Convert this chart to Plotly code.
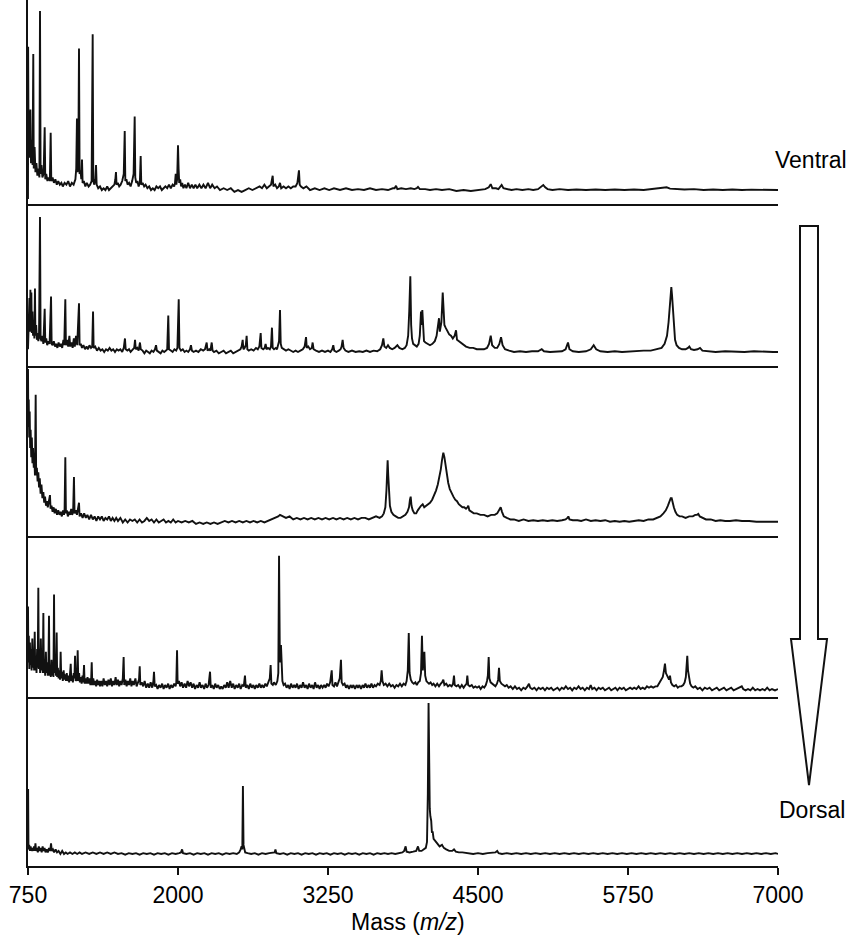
import plotly.graph_objects as go

# ---------------- data (mass m/z, relative intensity; tallest peak of each spectrum = 100) ----------------
ventral = [(750,-5),(751,80),(755,25),(760,44),(764,18),(770,45),(775,15),(782,28),(788,14),(794,76),(798,12),(805,24),(812,10),(820,15),(828,8),(836,12),(845,7),(850,100),(855,9),(862,14),(870,7),(880,9),(889,35),(894,6),(902,9),(912,5),(922,7),(932,5),(939,32),(944,5),(955,7),(966,4),(978,6),(990,3),(1002,5),(1015,3),(1028,4),(1040,2),(1055,4),(1070,3),(1085,5),(1100,2),(1115,4),(1130,3),(1145,6),(1152,12),(1158,40),(1163,10),(1169,14),(1175,79),(1180,9),(1188,11),(1194,6),(1200,17),(1205,4),(1215,5),(1228,2),(1240,4),(1255,2),(1268,3),(1280,5),(1289,87),(1294,5),(1303,3),(1311,6),(1317,14),(1322,3),(1335,1),(1350,2),(1365,0),(1380,1),(1395,0),(1410,2),(1425,0),(1440,1),(1455,2),(1470,3),(1478,6),(1483,10),(1488,3),(1498,4),(1510,2),(1522,3),(1535,5),(1548,9),(1556,33),(1561,5),(1570,6),(1580,3),(1592,4),(1605,2),(1618,5),(1630,9),(1639,41),(1644,7),(1652,4),(1662,5),(1672,2),(1682,4),(1689,19),(1694,3),(1705,4),(1718,2),(1730,3),(1745,1),(1760,2),(1775,0),(1790,1),(1805,0),(1820,2),(1835,1),(1850,2),(1865,0),(1880,1),(1895,2),(1910,1),(1925,3),(1940,1),(1955,3),(1968,2),(1975,4),(1981,9),(1986,3),(1993,6),(2000,25),(2005,12),(2010,4),(2018,6),(2026,2),(2035,4),(2045,1),(2058,3),(2070,1),(2085,4),(2100,1),(2115,3),(2130,1),(2145,3),(2160,1),(2178,3),(2195,1),(2212,3),(2230,1),(2250,4),(2268,1),(2285,3),(2305,1),(2325,2),(2350,0),(2380,1),(2410,0),(2440,1),(2470,-1),(2500,0),(2530,-1),(2560,0),(2590,1),(2620,0),(2650,1),(2680,2),(2700,1),(2720,3),(2740,1),(2760,2),(2775,3),(2789,8),(2795,2),(2810,3),(2825,1),(2840,2),(2850,4),(2860,1),(2880,2),(2900,1),(2920,2),(2940,1),(2960,2),(2980,2),(2995,4),(3008,11),(3014,3),(3025,2),(3045,1),(3070,2),(3100,0),(3140,1),(3180,0),(3220,1),(3260,0),(3300,1),(3350,0),(3400,1),(3450,0),(3500,0.5),(3550,0),(3600,1),(3650,0),(3700,0.5),(3750,0),(3790,1),(3805,1),(3817,2.4),(3828,0.5),(3860,1),(3900,0.5),(3940,1),(3970,0.5),(3990,1),(4000,1.7),(4015,0.5),(4060,0.5),(4100,0),(4150,0.5),(4200,0),(4260,0.5),(4320,-0.5),(4380,0),(4440,-0.5),(4500,0),(4560,0.5),(4590,1.5),(4606,3.3),(4620,1),(4650,1),(4670,0.5),(4685,1.5),(4697,2.8),(4712,1),(4740,0.5),(4780,0),(4820,0.5),(4870,0),(4920,0.5),(4960,0),(5000,0.5),(5020,1.5),(5044,2.8),(5060,1.5),(5080,0.5),(5120,0),(5180,0.5),(5250,0),(5320,0.3),(5400,0),(5480,0.3),(5560,0),(5640,0.3),(5720,0),(5800,0.3),(5880,0),(5960,0.5),(6020,0.8),(6050,1),(6072,1.5),(6100,0.8),(6150,0.5),(6220,0.3),(6300,0.5),(6380,0),(6460,0.3),(6540,0),(6620,0.3),(6700,0),(6780,0.2),(6860,0),(6940,0.2),(7000,0)]

section_2 = [(750,2),(753,20),(757,9),(762,40),(766,15),(770,46),(774,18),(778,44),(782,14),(787,30),(792,12),(798,22),(803,10),(808,47),(812,12),(818,20),(824,9),(830,14),(836,8),(842,12),(850,100),(855,10),(862,8),(870,12),(878,6),(889,32),(894,7),(902,10),(910,5),(920,8),(930,6),(942,41),(947,6),(955,5),(965,8),(975,4),(985,6),(995,3),(1005,7),(1015,4),(1025,6),(1035,3),(1045,9),(1052,5),(1061,39),(1066,5),(1075,9),(1085,4),(1095,12),(1102,4),(1112,7),(1122,3),(1132,10),(1140,4),(1150,12),(1160,5),(1175,36),(1180,5),(1190,6),(1200,3),(1212,5),(1225,2),(1238,4),(1250,2),(1262,5),(1275,3),(1285,4),(1292,30),(1297,3),(1310,4),(1325,1),(1340,3),(1355,1),(1370,2),(1385,0),(1400,2),(1415,1),(1430,3),(1445,1),(1460,2),(1475,0),(1490,2),(1505,1),(1520,2),(1535,0),(1548,3),(1558,10),(1564,2),(1578,1),(1592,2),(1605,0),(1620,2),(1635,3),(1642,9),(1648,2),(1660,3),(1672,1),(1683,7),(1690,2),(1705,1),(1720,-1),(1735,1),(1750,0),(1765,-1),(1780,1),(1795,0),(1808,2),(1817,5),(1824,1),(1840,0),(1855,-1),(1870,1),(1885,0),(1900,1),(1910,2),(1919,27),(1925,2),(1940,1),(1955,0),(1970,2),(1985,1),(1995,3),(2006,39),(2012,3),(2025,1),(2040,2),(2055,0),(2070,1),(2085,0),(2100,2),(2108,5),(2116,1),(2130,0),(2150,1),(2170,0),(2190,2),(2210,1),(2225,2),(2239,7),(2246,1),(2260,2),(2270,1),(2281,7),(2288,1),(2300,0),(2320,1),(2340,-1),(2360,0),(2380,1),(2400,-1),(2420,0),(2440,1),(2460,-1),(2480,0),(2500,1),(2520,2),(2530,4),(2539,9),(2545,2),(2555,3),(2565,5),(2572,12),(2578,2),(2590,1),(2610,2),(2630,1),(2650,3),(2665,2),(2678,4),(2689,14),(2695,3),(2710,2),(2722,3),(2730,6),(2738,2),(2750,3),(2765,2),(2775,4),(2783,18),(2789,3),(2800,2),(2815,3),(2825,2),(2835,5),(2842,8),(2850,31),(2856,6),(2865,3),(2880,2),(2900,1),(2920,2),(2940,1),(2960,0),(2980,1),(3000,0),(3020,1),(3040,2),(3055,4),(3067,11),(3073,3),(3085,4),(3100,2),(3115,3),(3122,7),(3130,2),(3150,1),(3175,0),(3200,1),(3225,0),(3250,1),(3270,0),(3285,2),(3294,5),(3302,1),(3320,0),(3340,1),(3355,2),(3363,4),(3372,9),(3380,3),(3395,1),(3420,0),(3450,1),(3480,0),(3510,0.5),(3540,0),(3570,1),(3600,0),(3630,1),(3660,0.5),(3685,2),(3700,5),(3711,10),(3720,4),(3735,3),(3750,5),(3765,3),(3785,2),(3805,3),(3828,5),(3845,3),(3870,2),(3890,3),(3905,5),(3918,12),(3927,30),(3936,56),(3943,20),(3950,10),(3960,6),(3975,5),(3990,4),(4005,6),(4015,12),(4025,30),(4030,20),(4036,31),(4042,15),(4050,8),(4062,7),(4080,6),(4100,5),(4120,6),(4140,8),(4155,12),(4165,18),(4175,25),(4182,15),(4195,22),(4206,44),(4212,28),(4220,20),(4230,18),(4245,15),(4260,13),(4275,12),(4290,10),(4305,12),(4317,16),(4325,9),(4340,8),(4360,6),(4380,5),(4400,4),(4430,3),(4460,3),(4490,2),(4520,2),(4550,2),(4575,3),(4592,6),(4606,12),(4618,5),(4640,3),(4660,3),(4678,6),(4692,11),(4705,5),(4725,2),(4760,1),(4800,0),(4850,0.5),(4900,0),(4950,0.5),(5000,0.5),(5031,2),(5050,0.5),(5100,0),(5150,0.5),(5200,0.5),(5230,2),(5250,7),(5262,2),(5290,0.5),(5340,0),(5400,0.5),(5440,2),(5464,5),(5485,2),(5520,0.5),(5580,0),(5640,0.5),(5700,0),(5760,0.5),(5820,0.5),(5880,1),(5940,1),(5990,2),(6030,3),(6055,6),(6075,12),(6088,22),(6098,35),(6106,44),(6111,48),(6117,42),(6124,30),(6132,18),(6142,9),(6155,5),(6175,3),(6200,2),(6230,2),(6250,3),(6261,4),(6275,2),(6300,1.5),(6330,2),(6350,3),(6370,1),(6420,0.5),(6480,0),(6560,0.5),(6640,0),(6720,0),(6800,0.5),(6880,0),(6960,0),(7000,0)]

section_3 = [(750,100),(753,62),(756,80),(760,55),(764,72),(768,48),(772,60),(777,42),(782,55),(787,38),(792,48),(798,35),(803,42),(808,30),(814,83),(818,30),(824,35),(830,26),(836,32),(842,22),(848,28),(855,18),(862,24),(870,15),(878,19),(885,12),(892,16),(900,10),(908,13),(915,9),(922,12),(933,17),(938,8),(946,10),(955,6),(964,9),(972,5),(982,8),(992,4),(1002,7),(1012,4),(1022,6),(1032,3),(1042,7),(1050,4),(1055,8),(1061,42),(1066,5),(1074,7),(1082,3),(1092,6),(1100,4),(1110,8),(1118,4),(1126,6),(1133,29),(1138,5),(1148,7),(1158,4),(1168,8),(1175,12),(1180,3),(1192,5),(1205,2),(1218,5),(1232,2),(1245,4),(1260,1),(1275,4),(1290,1),(1305,3),(1320,0),(1335,3),(1350,1),(1365,3),(1380,0),(1395,2),(1410,1),(1425,3),(1440,0),(1455,2),(1470,0),(1485,2),(1500,0),(1520,2),(1540,-1),(1560,1),(1580,-1),(1600,1),(1620,0),(1640,1),(1660,-1),(1680,1),(1700,-1),(1720,0),(1740,2),(1760,0),(1780,1),(1800,-1),(1820,1),(1840,-1),(1860,0),(1880,1),(1900,-1),(1920,0),(1940,-1),(1960,1),(1980,-1),(2000,0),(2030,-1),(2060,0),(2090,-1),(2120,0),(2150,-2),(2180,-1),(2210,-2),(2240,-1),(2270,-2),(2300,-1),(2330,-2),(2360,-1),(2390,0),(2420,-1),(2450,0),(2480,-1),(2510,0),(2540,-1),(2570,0),(2600,-1),(2630,0),(2660,-1),(2690,0),(2720,-1),(2750,0),(2780,1),(2810,2),(2835,3),(2850,4),(2870,3),(2900,2),(2930,3),(2960,1),(2990,2),(3020,1),(3050,2),(3080,1),(3110,2),(3140,1),(3170,2),(3200,1),(3230,2),(3260,1),(3292,2),(3320,1),(3350,2),(3380,1),(3410,2),(3440,1),(3470,2),(3500,1),(3530,2),(3560,2),(3590,1),(3620,2),(3650,3),(3680,2),(3700,3),(3715,5),(3728,9),(3737,20),(3743,33),(3747,40),(3752,30),(3758,18),(3766,10),(3778,6),(3795,4),(3815,3),(3835,2),(3855,2),(3875,3),(3895,4),(3912,6),(3925,9),(3933,14),(3939,16),(3946,10),(3956,7),(3970,5),(3985,5),(3998,7),(4012,9),(4025,10),(4039,11),(4052,9),(4068,10),(4085,11),(4100,12),(4118,14),(4135,17),(4150,20),(4165,24),(4178,29),(4190,34),(4200,40),(4211,45),(4220,42),(4230,36),(4240,30),(4252,25),(4265,21),(4280,18),(4295,16),(4310,14),(4325,13),(4340,11),(4355,10),(4370,9),(4385,9),(4400,8),(4412,9),(4419,10),(4428,7),(4445,6),(4465,5),(4490,5),(4520,4),(4550,4),(4580,3),(4610,4),(4640,4),(4660,5),(4675,7),(4689,9),(4700,6),(4715,3),(4740,2),(4770,1),(4800,1),(4840,0),(4880,1),(4920,0),(4960,0.5),(5000,0),(5040,0.5),(5080,0),(5120,0.5),(5160,0),(5200,0.5),(5230,1),(5245,2),(5253,3),(5262,1),(5290,0.5),(5330,0.5),(5360,0),(5400,1),(5440,0),(5480,0.5),(5520,0),(5560,0.5),(5600,-0.5),(5640,0),(5680,-0.5),(5720,0),(5760,-0.5),(5800,0),(5840,0.5),(5880,0),(5920,1),(5960,1),(5990,2),(6020,3),(6045,5),(6065,7),(6082,10),(6096,13),(6106,15),(6114,15),(6122,12),(6132,9),(6145,6),(6160,4),(6180,3),(6200,3),(6230,2),(6260,3),(6290,3),(6310,4),(6325,4),(6336,4.6),(6348,3),(6370,2),(6400,1),(6440,1),(6480,0),(6520,0.5),(6560,0),(6600,0),(6650,0.5),(6700,0),(6760,0),(6820,-0.5),(6880,-0.5),(6940,-0.5),(7000,-0.5)]

section_4 = [(750,62),(753,20),(757,40),(761,15),(766,35),(770,18),(775,30),(780,14),(786,38),(791,16),(796,28),(801,14),(806,43),(810,14),(816,25),(821,12),(826,30),(831,16),(836,76),(840,15),(846,30),(851,12),(857,38),(862,14),(868,25),(873,12),(878,57),(882,12),(888,22),(893,10),(899,28),(904,12),(910,20),(915,10),(920,16),(925,55),(929,10),(935,18),(940,9),(946,22),(951,10),(957,15),(962,9),(967,71),(971,12),(977,20),(983,10),(989,42.5),(993,9),(999,16),(1005,8),(1012,14),(1017,7),(1022,28),(1027,8),(1034,13),(1040,6),(1047,14),(1053,7),(1060,11),(1066,6),(1073,12),(1080,6),(1087,10),(1093,5),(1100,11),(1106,19),(1111,6),(1118,10),(1124,5),(1131,12),(1137,8),(1142,25),(1147,6),(1153,9),(1158,6),(1164,29),(1169,6),(1176,12),(1182,5),(1190,9),(1197,4),(1204,10),(1210,5),(1217,18),(1222,4),(1230,8),(1238,4),(1246,9),(1254,4),(1262,8),(1270,3),(1276,6),(1281,20),(1286,3),(1294,8),(1302,3),(1310,6),(1318,2),(1326,7),(1334,3),(1342,6),(1350,2),(1360,6),(1370,2),(1380,8),(1390,3),(1400,6),(1410,2),(1420,7),(1430,3),(1440,8),(1450,2),(1460,6),(1470,3),(1480,9),(1490,3),(1500,7),(1510,2),(1520,6),(1530,3),(1540,8),(1547,24),(1552,3),(1562,7),(1572,2),(1582,6),(1592,3),(1602,8),(1612,2),(1622,6),(1632,3),(1645,8),(1655,2),(1668,5),(1675,7),(1681,17),(1686,3),(1698,5),(1710,2),(1722,6),(1735,1),(1748,4),(1760,1),(1772,5),(1785,1),(1795,6),(1800,13),(1806,2),(1818,3),(1830,0),(1842,3),(1855,1),(1868,4),(1880,0),(1892,3),(1905,1),(1918,4),(1930,0),(1942,3),(1955,1),(1968,4),(1980,2),(1986,5),(1992,29),(1997,4),(2008,6),(2018,2),(2030,5),(2042,1),(2055,4),(2068,1),(2080,6),(2092,2),(2105,5),(2118,1),(2130,4),(2142,0),(2155,3),(2168,1),(2180,5),(2192,1),(2205,3),(2218,0),(2230,4),(2242,1),(2255,3),(2267,13),(2273,1),(2285,3),(2298,0),(2310,4),(2322,1),(2335,3),(2348,0),(2360,2),(2372,0),(2385,3),(2398,1),(2410,5),(2422,1),(2435,6),(2448,1),(2460,4),(2472,0),(2485,3),(2498,1),(2510,4),(2522,0),(2535,3),(2548,2),(2558,10),(2565,1),(2578,3),(2590,0),(2602,4),(2615,1),(2628,3),(2640,0),(2652,3),(2665,1),(2678,4),(2690,1),(2702,3),(2715,1),(2728,4),(2740,2),(2755,5),(2765,8),(2772,18),(2778,4),(2790,3),(2800,5),(2815,3),(2828,6),(2836,12),(2842,100),(2848,30),(2853,20),(2858,33),(2863,10),(2870,6),(2880,3),(2892,4),(2905,1),(2918,3),(2930,0),(2942,4),(2955,1),(2968,3),(2980,1),(2992,4),(3005,0),(3018,3),(3030,1),(3042,5),(3055,1),(3068,3),(3080,0),(3092,4),(3105,1),(3118,3),(3130,0),(3142,5),(3155,1),(3168,3),(3180,0),(3192,3),(3205,1),(3218,3),(3230,1),(3242,4),(3255,2),(3268,5),(3281,14),(3287,3),(3300,2),(3312,5),(3325,2),(3338,6),(3348,8),(3358,22),(3364,5),(3375,3),(3388,4),(3400,1),(3412,3),(3425,0),(3438,3),(3450,1),(3462,3),(3475,0),(3488,3),(3500,1),(3512,3),(3525,0),(3538,3),(3550,1),(3562,4),(3575,1),(3588,3),(3600,1),(3612,4),(3625,1),(3638,3),(3650,2),(3665,4),(3680,3),(3690,6),(3697,14),(3704,6),(3715,3),(3730,4),(3745,2),(3760,4),(3775,2),(3790,3),(3805,1),(3820,3),(3835,2),(3850,4),(3865,2),(3880,4),(3895,3),(3905,6),(3915,14),(3923,42),(3930,12),(3940,7),(3952,5),(3965,4),(3978,5),(3990,3),(4002,5),(4015,6),(4025,12),(4033,40),(4040,14),(4047,20),(4053,28),(4060,10),(4070,6),(4080,5),(4092,4),(4105,5),(4118,3),(4130,4),(4145,2),(4160,4),(4175,2),(4190,4),(4200,5),(4211,7),(4220,3),(4235,4),(4250,2),(4265,3),(4280,2),(4292,4),(4300,10),(4306,3),(4320,2),(4335,3),(4350,1),(4365,3),(4380,1),(4395,3),(4405,4),(4411,10),(4418,3),(4432,2),(4448,3),(4462,1),(4478,2),(4492,1),(4508,2),(4522,0),(4538,2),(4552,1),(4565,3),(4575,6),(4582,10),(4589,24),(4595,8),(4605,5),(4618,4),(4632,3),(4645,2),(4658,4),(4668,7),(4675,16),(4682,6),(4695,4),(4710,3),(4725,2),(4740,3),(4755,1),(4772,2),(4790,0),(4808,2),(4825,0),(4842,1),(4860,-1),(4878,1),(4895,0),(4912,2),(4925,4),(4935,1),(4952,0),(4970,1),(4988,-1),(5005,1),(5022,0),(5040,1),(5058,-1),(5075,1),(5092,0),(5110,1),(5128,-1),(5145,0),(5162,1),(5180,-1),(5198,1),(5215,0),(5232,2),(5250,0),(5268,1),(5285,-1),(5302,1),(5320,0),(5338,2),(5355,0),(5372,1),(5390,-1),(5408,1),(5425,0),(5439,3),(5452,0),(5470,1),(5488,-1),(5505,1),(5522,0),(5540,1),(5558,-1),(5575,0),(5592,1),(5610,-1),(5628,0),(5645,1),(5662,-1),(5680,1),(5698,0),(5715,1),(5732,-1),(5750,0),(5768,1),(5785,0),(5802,1),(5820,0),(5838,2),(5855,0),(5872,1),(5890,0),(5908,2),(5925,1),(5942,2),(5960,1),(5978,2),(5995,2),(6010,4),(6025,6),(6040,9),(6050,14),(6058,19),(6066,12),(6074,10),(6082,8),(6092,7),(6100,10),(6108,5),(6120,3),(6135,2),(6150,3),(6165,1),(6180,2),(6195,2),(6210,3),(6222,5),(6232,9),(6240,18),(6244,25),(6250,14),(6258,8),(6268,4),(6280,2),(6295,1),(6310,2),(6330,0),(6350,1),(6370,-1),(6390,1),(6410,0),(6430,1),(6450,-1),(6470,0),(6490,1),(6510,-1),(6530,0),(6550,1),(6570,-1),(6590,0),(6610,1),(6630,-1),(6650,0),(6670,1),(6698,2),(6710,0),(6730,-1),(6750,0),(6770,-1),(6790,1),(6810,-1),(6830,0),(6850,-1),(6870,0),(6890,-1),(6910,1),(6930,-1),(6950,0),(6975,-1),(7000,0)]

dorsal = [(750,3),(751,43),(754,3),(760,6),(766,2),(772,5),(778,2),(785,4),(792,2),(800,5),(806,2),(812,7),(817,2),(825,4),(832,1),(840,5),(848,2),(856,4),(864,1),(872,5),(880,2),(888,4),(896,1),(905,3),(915,1),(925,4),(935,2),(942,7),(948,2),(958,3),(968,1),(980,3),(992,1),(1005,2),(1020,0),(1035,2),(1050,0),(1065,1),(1080,0),(1100,1),(1120,0),(1140,1),(1160,0),(1180,1),(1200,0),(1230,1),(1260,0),(1290,1),(1320,0),(1350,1),(1380,0),(1410,1),(1440,0),(1470,1),(1500,0),(1530,0.5),(1560,-0.5),(1590,0.5),(1620,0),(1650,0.5),(1680,-0.5),(1710,0.5),(1740,0),(1770,0.5),(1800,-0.5),(1830,0.5),(1860,0),(1890,0.5),(1920,-0.5),(1950,0.5),(1980,0),(2010,0.5),(2025,1),(2034,3),(2042,0.5),(2070,0),(2100,0.5),(2130,-0.5),(2160,0.5),(2190,0),(2220,0.5),(2250,-0.5),(2280,0.5),(2310,0),(2340,0.5),(2370,-0.5),(2400,0.5),(2430,0),(2460,0.5),(2490,0),(2510,1),(2522,3),(2530,5),(2536,3),(2541,45),(2546,6),(2552,4),(2560,1),(2580,0.5),(2610,0),(2640,0.5),(2670,-0.5),(2700,0.5),(2730,0),(2760,0.5),(2790,0.5),(2805,1),(2812,3),(2820,0.5),(2850,0),(2880,0.5),(2910,-0.5),(2940,0.5),(2970,0),(3000,0.5),(3030,-0.5),(3060,0.5),(3090,0),(3120,0.5),(3150,-0.5),(3180,0.5),(3210,0),(3240,0.5),(3270,-0.5),(3300,0.5),(3330,0),(3360,0.5),(3390,-0.5),(3420,0.5),(3450,0),(3480,0.5),(3510,-0.5),(3540,0.5),(3570,0),(3600,0.5),(3630,-0.5),(3660,0.5),(3690,0),(3720,0.5),(3750,0),(3780,0.5),(3810,0),(3840,0.5),(3870,1),(3885,2),(3897,5),(3905,1.5),(3930,1),(3960,1.5),(3985,2),(4000,5),(4010,2),(4030,2),(4050,3),(4065,4),(4075,8),(4082,40),(4088,100),(4093,50),(4098,30),(4103,25),(4110,22),(4116,14),(4122,15),(4130,10),(4140,9),(4152,8),(4165,6),(4180,5),(4200,6),(4215,4),(4235,3),(4260,2),(4285,2),(4300,3),(4315,1.5),(4340,1),(4370,1),(4400,0.5),(4430,0.5),(4460,0),(4500,0.5),(4540,0),(4580,0.5),(4620,0.5),(4645,1),(4660,2),(4672,0.5),(4700,0),(4740,0.5),(4780,0),(4820,0.5),(4860,0),(4900,0.5),(4940,0),(4980,0.5),(5020,0),(5060,0.5),(5100,0),(5140,0.5),(5180,0),(5220,0.5),(5260,0),(5300,0.5),(5340,0),(5380,0.5),(5420,0),(5460,0.5),(5500,0),(5540,0.5),(5580,0),(5620,0.5),(5660,0),(5700,0.5),(5740,0),(5780,0.5),(5820,0),(5860,0.5),(5900,0),(5940,0.5),(5980,0),(6020,0.5),(6060,0),(6100,0.5),(6140,0),(6180,0.5),(6220,0),(6260,0.5),(6300,0),(6340,0.5),(6380,0),(6420,0.5),(6460,0),(6500,0.5),(6540,0),(6580,0.5),(6620,0),(6660,0.5),(6700,0),(6740,0.5),(6780,0),(6820,0.5),(6860,0),(6900,0.5),(6940,0),(6980,0.5),(7000,0)]

tick_values = [750, 2000, 3250, 4500, 5750, 7000]
tick_labels = ["750", "2000", "3250", "4500", "5750", "7000"]
x_title = "Mass (<i>m/z</i>)"
top_label = "Ventral"
bottom_label = "Dorsal"

# ---------------- layout geometry (pixels) ----------------
W, H = 855, 941
PL, PR = 28, 778          # plot area left/right
PB = 866                  # plot area bottom (top = 0)
panel_px = [(0, 204), (204, 366), (366, 536), (536, 697), (697, 866)]
y_ranges = [[-7.8, 106.1], [-10.4, 109.6], [-9.9, 102.0], [-6.0, 114.9], [-8.0, 104.0]]

def px_x(px):
    return (px - PL) / (PR - PL)

def px_y(py):
    return (PB - py) / PB

FONT = "Liberation Sans, Arial, Helvetica, sans-serif"
INK = "#111111"

fig = go.Figure()
spectra = [ventral, section_2, section_3, section_4, dorsal]
for k, spec in enumerate(spectra, start=1):
    mz = [p[0] for p in spec]
    inten = [p[1] for p in spec]
    fig.add_trace(go.Scatter(
        x=mz, y=inten, mode="lines",
        line=dict(color=INK, width=1.9),
        xaxis="x" if k == 1 else f"x{k}",
        yaxis="y" if k == 1 else f"y{k}",
        showlegend=False, hoverinfo="skip",
    ))

layout = dict(
    width=W, height=H, autosize=False,
    margin=dict(l=PL, r=W - PR, t=0, b=H - PB, pad=0),
    paper_bgcolor="white", plot_bgcolor="white",
    font=dict(family=FONT, size=23, color="black"),
    showlegend=False,
)
for k in range(1, 6):
    top, bot = panel_px[k - 1]
    xs = "" if k == 1 else str(k)
    bottom = (k == 5)
    layout[f"xaxis{xs}"] = dict(
        domain=[0, 1], range=[750, 7000], anchor=f"y{xs}",
        showline=True, linecolor=INK, linewidth=2,
        showgrid=False, zeroline=False,
        ticks="outside" if bottom else "", ticklen=7, tickwidth=2, tickcolor=INK,
        tickvals=tick_values, ticktext=tick_labels,
        showticklabels=bottom,
        tickfont=dict(family=FONT, size=23, color="black"),
        **({} if k == 1 else {"matches": "x"}),
    )
    layout[f"yaxis{xs}"] = dict(
        domain=[px_y(bot), px_y(top)], range=y_ranges[k - 1], anchor=f"x{xs}",
        showline=True, linecolor=INK, linewidth=2,
        showgrid=False, zeroline=False, ticks="", showticklabels=False,
    )
fig.update_layout(**layout)

fig.add_annotation(text=x_title, xref="paper", yref="paper",
                   x=px_x(408), y=px_y(922), xanchor="center", yanchor="middle",
                   showarrow=False, font=dict(family=FONT, size=23, color="black"))
fig.add_annotation(text=top_label, xref="paper", yref="paper",
                   x=px_x(811), y=px_y(160), xanchor="center", yanchor="middle",
                   showarrow=False, font=dict(family=FONT, size=23, color="black"))
fig.add_annotation(text=bottom_label, xref="paper", yref="paper",
                   x=px_x(812), y=px_y(810), xanchor="center", yanchor="middle",
                   showarrow=False, font=dict(family=FONT, size=23, color="black"))

# downward arrow (Ventral -> Dorsal)
pts = [(800, 226), (818, 226), (818, 639), (827, 639), (809, 785), (791, 639), (800, 639)]
path = "M " + " L ".join(f"{px_x(a):.5f},{px_y(b):.5f}" for a, b in pts) + " Z"
fig.add_shape(type="path", path=path, xref="paper", yref="paper",
              line=dict(color=INK, width=2), fillcolor="white")

# remove the browser's default 8px page margin so the figure sits at the window origin
fig.write_html("out.html",
               config={"displayModeBar": False},
               post_script="document.body.style.margin='0px';document.body.style.padding='0px';")
